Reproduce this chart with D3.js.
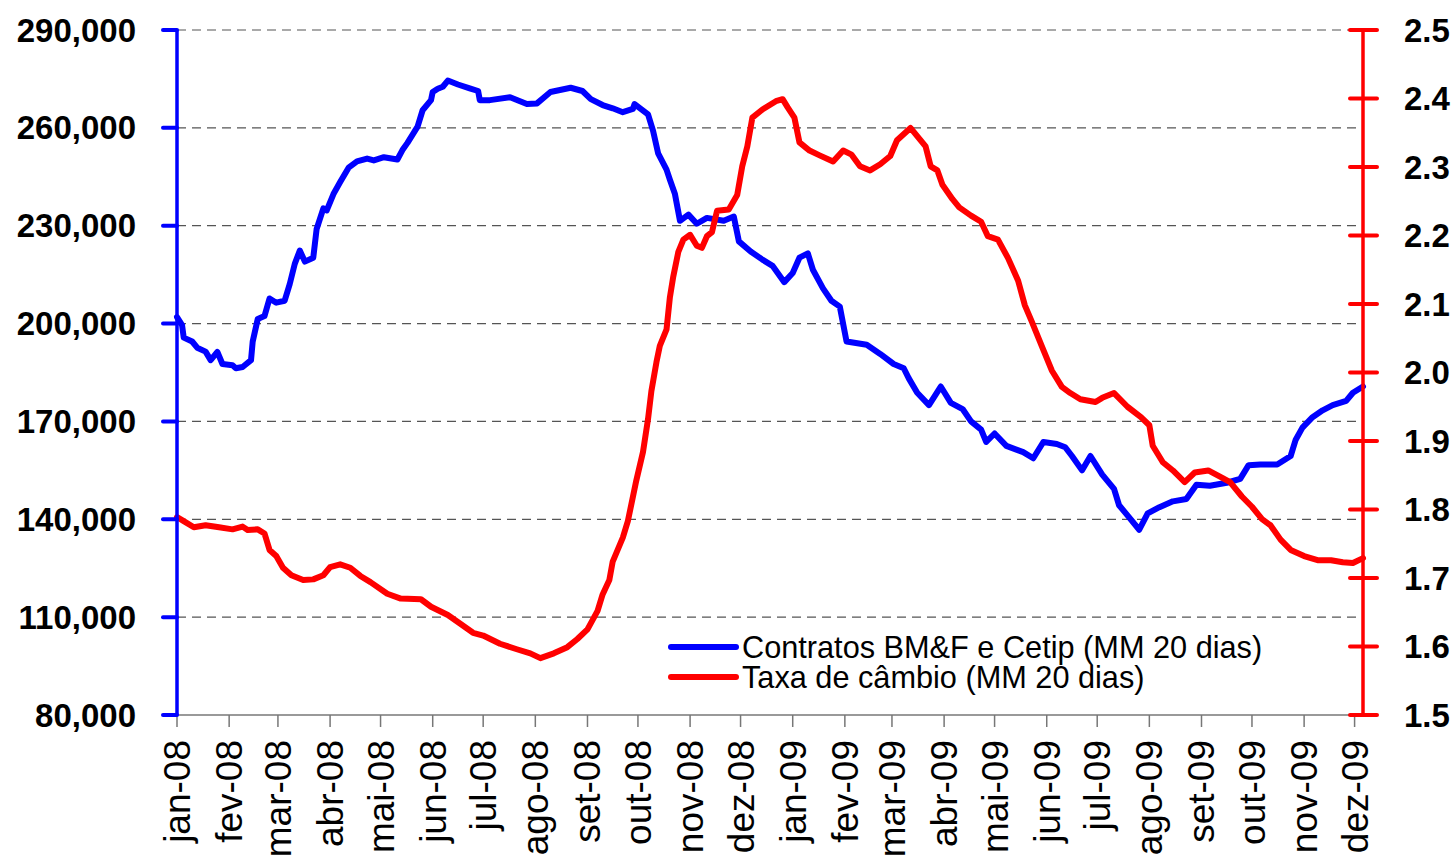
<!DOCTYPE html>
<html>
<head>
<meta charset="utf-8">
<script src="https://cdn.jsdelivr.net/npm/d3@7"></script>
<style>
  html, body { margin: 0; padding: 0; background: #fff; }
  svg { display: block; font-family: "Liberation Sans", Arial, sans-serif; }
</style>
</head>
<body>
<svg id="chart" width="1456" height="862"></svg>
<script>
// ---- Data ----
const monthLabels = ["jan-08","fev-08","mar-08","abr-08","mai-08","jun-08","jul-08","ago-08","set-08","out-08","nov-08","dez-08",
                     "jan-09","fev-09","mar-09","abr-09","mai-09","jun-09","jul-09","ago-09","set-09","out-09","nov-09","dez-09"];
const monthDates = ["2008-01-01","2008-02-01","2008-03-01","2008-04-01","2008-05-01","2008-06-01","2008-07-01","2008-08-01","2008-09-01","2008-10-01","2008-11-01","2008-12-01",
                    "2009-01-01","2009-02-01","2009-03-01","2009-04-01","2009-05-01","2009-06-01","2009-07-01","2009-08-01","2009-09-01","2009-10-01","2009-11-01","2009-12-01"];
const xDomain = ["2008-01-01", "2009-12-06"];

const leftTicks = [80000, 110000, 140000, 170000, 200000, 230000, 260000, 290000];
const rightTicks = [1.5, 1.6, 1.7, 1.8, 1.9, 2.0, 2.1, 2.2, 2.3, 2.4, 2.5];

const legendLabels = ["Contratos BM&F e Cetip (MM 20 dias)", "Taxa de câmbio (MM 20 dias)"];

// Contratos BM&F e Cetip (MM 20 dias) - left axis
const contratosDates = [
  "2008-01-01","2008-01-04","2008-01-05","2008-01-10","2008-01-13","2008-01-18","2008-01-21","2008-01-25","2008-01-28",
  "2008-02-03","2008-02-05","2008-02-09","2008-02-14","2008-02-15","2008-02-18","2008-02-22","2008-02-25","2008-02-29",
  "2008-03-05","2008-03-08","2008-03-11","2008-03-14","2008-03-17","2008-03-22","2008-03-24","2008-03-28","2008-03-30",
  "2008-04-03","2008-04-07","2008-04-12","2008-04-17","2008-04-23","2008-04-27",
  "2008-05-03","2008-05-11","2008-05-14","2008-05-17","2008-05-23","2008-05-26","2008-05-31",
  "2008-06-01","2008-06-04","2008-06-07","2008-06-10","2008-06-16","2008-06-23","2008-06-28","2008-06-29",
  "2008-07-05","2008-07-17","2008-07-27",
  "2008-08-02","2008-08-10","2008-08-22","2008-08-29",
  "2008-09-03","2008-09-10","2008-09-16","2008-09-22","2008-09-28","2008-09-29",
  "2008-10-07","2008-10-10","2008-10-13","2008-10-18","2008-10-20","2008-10-23","2008-10-26","2008-10-31",
  "2008-11-05","2008-11-11","2008-11-21","2008-11-27","2008-11-30",
  "2008-12-07","2008-12-14","2008-12-20","2008-12-27",
  "2009-01-01","2009-01-05","2009-01-10","2009-01-13","2009-01-19","2009-01-24","2009-01-29",
  "2009-02-02","2009-02-14","2009-02-22",
  "2009-03-02","2009-03-08","2009-03-11","2009-03-16","2009-03-23","2009-03-30",
  "2009-04-05","2009-04-12","2009-04-17","2009-04-23","2009-04-26",
  "2009-05-01","2009-05-08","2009-05-18","2009-05-24","2009-05-30",
  "2009-06-07","2009-06-12","2009-06-16","2009-06-22","2009-06-27",
  "2009-07-04","2009-07-11","2009-07-14","2009-07-19","2009-07-26","2009-07-31",
  "2009-08-07","2009-08-15","2009-08-23","2009-08-29",
  "2009-09-06","2009-09-16","2009-09-24","2009-09-29",
  "2009-10-06","2009-10-16","2009-10-24","2009-10-27","2009-10-31",
  "2009-11-06","2009-11-12","2009-11-18","2009-11-26","2009-11-30",
  "2009-12-06"
];
const contratosValues = [
  202000,199500,195700,194500,192600,191400,188800,191300,187600,
  187200,186300,186700,188800,194500,201400,202300,207700,206400,
  207000,212100,218300,222400,219000,220200,229000,235300,234700,
  239700,243400,247800,249700,250600,250000,
  251000,250300,253200,255400,260400,265400,268500,
  271000,272000,272600,274500,273300,272100,271300,268500,
  268500,269400,267300,
  267500,271000,272300,271300,
  268800,267000,266000,264800,265800,267300,
  264100,259100,252200,247200,244100,239700,231500,233400,
  230600,232400,231500,232800,225200,
  222100,219600,217700,212700,
  215500,220200,221500,216500,210800,207000,205200,
  194500,193500,190700,
  187600,186300,183200,178800,175000,180700,
  175700,173800,170000,167500,163700,
  166300,162500,160600,158700,163700,
  163100,162100,159400,155000,159400,
  153700,149300,144300,141200,136800,141800,
  143700,145500,146200,150600,
  150300,151200,152400,156600,
  156800,156800,159400,164400,168100,
  171300,173400,175000,176300,178800,
  180700
];

// Taxa de câmbio (MM 20 dias) - right axis
const cambioDates = [
  "2008-01-01","2008-01-05","2008-01-11","2008-01-18","2008-01-26",
  "2008-02-03","2008-02-09","2008-02-12","2008-02-18","2008-02-22","2008-02-25","2008-02-29",
  "2008-03-04","2008-03-09","2008-03-16","2008-03-22","2008-03-28",
  "2008-04-01","2008-04-07","2008-04-13","2008-04-19","2008-04-25",
  "2008-05-05","2008-05-13","2008-05-25","2008-05-31",
  "2008-06-10","2008-06-17","2008-06-25",
  "2008-07-01","2008-07-11","2008-07-21","2008-07-29",
  "2008-08-04","2008-08-12","2008-08-20","2008-08-26",
  "2008-09-01","2008-09-07","2008-09-10","2008-09-14","2008-09-16","2008-09-22","2008-09-25","2008-09-30",
  "2008-10-04","2008-10-07","2008-10-09","2008-10-12","2008-10-14","2008-10-18","2008-10-20","2008-10-22","2008-10-25","2008-10-28",
  "2008-11-01","2008-11-05","2008-11-08","2008-11-11","2008-11-14","2008-11-17","2008-11-24","2008-11-29",
  "2008-12-02","2008-12-05","2008-12-08","2008-12-14","2008-12-22","2008-12-26","2008-12-29",
  "2009-01-02","2009-01-05","2009-01-11","2009-01-17","2009-01-25","2009-01-31",
  "2009-02-05","2009-02-10","2009-02-16","2009-02-22","2009-02-28",
  "2009-03-04","2009-03-12","2009-03-16","2009-03-21","2009-03-24","2009-03-28","2009-03-31",
  "2009-04-06","2009-04-10","2009-04-17","2009-04-23","2009-04-27",
  "2009-05-03","2009-05-09","2009-05-15","2009-05-19","2009-05-23","2009-05-29",
  "2009-06-04","2009-06-10","2009-06-15","2009-06-21","2009-06-30",
  "2009-07-04","2009-07-11","2009-07-19","2009-07-27",
  "2009-08-01","2009-08-03","2009-08-09","2009-08-15","2009-08-22","2009-08-28",
  "2009-09-05","2009-09-12","2009-09-18","2009-09-25",
  "2009-10-01","2009-10-07","2009-10-12","2009-10-18","2009-10-24",
  "2009-11-01","2009-11-09","2009-11-17","2009-11-24","2009-11-30",
  "2009-12-06"
];
const cambioValues = [
  1.789,1.783,1.774,1.777,1.774,
  1.771,1.775,1.770,1.771,1.765,1.741,1.732,
  1.715,1.704,1.697,1.698,1.704,
  1.716,1.720,1.715,1.703,1.694,
  1.677,1.670,1.669,1.658,
  1.646,1.634,1.620,
  1.616,1.604,1.596,1.590,
  1.583,1.590,1.599,1.611,
  1.625,1.652,1.676,1.697,1.724,1.759,1.783,1.842,
  1.884,1.932,1.973,2.015,2.039,2.063,2.110,2.140,2.176,2.194,
  2.201,2.185,2.182,2.199,2.205,2.236,2.238,2.259,
  2.301,2.330,2.372,2.384,2.396,2.399,2.387,
  2.372,2.336,2.324,2.317,2.308,2.324,
  2.318,2.301,2.295,2.304,2.316,
  2.339,2.357,2.345,2.330,2.301,2.295,2.274,
  2.253,2.241,2.229,2.220,2.199,
  2.194,2.167,2.134,2.098,2.075,2.039,
  2.003,1.979,1.970,1.961,1.957,
  1.963,1.970,1.950,1.935,
  1.923,1.893,1.869,1.857,1.840,1.854,
  1.857,1.848,1.840,1.819,
  1.804,1.786,1.777,1.756,1.741,
  1.732,1.726,1.726,1.723,1.722,
  1.729
];

// ---- Chart ----
const parse = d3.timeParse("%Y-%m-%d");
const svg = d3.select("#chart");
svg.append("rect").attr("width", 1456).attr("height", 862).attr("fill", "#fff");

const x = d3.scaleTime().domain(xDomain.map(parse)).range([177, 1363]);
const yL = d3.scaleLinear().domain([80000, 290000]).range([715, 30]);
const yR = d3.scaleLinear().domain([1.5, 2.5]).range([715, 30]);

// gridlines (dashed) at left-axis ticks
svg.append("g").selectAll("line")
  .data(leftTicks.filter(v => v > 80000))
  .join("line")
  .attr("x1", x.range()[0]).attr("x2", x.range()[1])
  .attr("y1", d => yL(d)).attr("y2", d => yL(d))
  .attr("stroke", "#555").attr("stroke-width", 1.2)
  .attr("stroke-dasharray", "9,6");

// x axis
const xAxis = svg.append("g").attr("transform", `translate(0,${yL(80000)})`);
xAxis.append("line").attr("x1", x.range()[0]).attr("x2", x.range()[1] + 6)
  .attr("stroke", "#777").attr("stroke-width", 1.5);
const mDates = monthDates.map(parse);
xAxis.selectAll("line.tick").data(mDates).join("line").attr("class", "tick")
  .attr("x1", d => x(d)).attr("x2", d => x(d)).attr("y1", 0).attr("y2", 12)
  .attr("stroke", "#777").attr("stroke-width", 1.5);
xAxis.selectAll("text").data(mDates).join("text")
  .attr("transform", d => `translate(${x(d)},25) rotate(-90)`)
  .attr("text-anchor", "end").attr("dy", "0.35em")
  .attr("font-size", 37).attr("fill", "#000")
  .text((d, i) => monthLabels[i]);

// lines
const lineL = d3.line().x(d => x(d[0])).y(d => yL(d[1]));
const lineR = d3.line().x(d => x(d[0])).y(d => yR(d[1]));
const contratos = contratosDates.map((d, i) => [parse(d), contratosValues[i]]);
const cambio = cambioDates.map((d, i) => [parse(d), cambioValues[i]]);

svg.append("path").datum(contratos).attr("d", lineL)
  .attr("fill", "none").attr("stroke", "#0000ff").attr("stroke-width", 6)
  .attr("stroke-linejoin", "round").attr("stroke-linecap", "round");
svg.append("path").datum(cambio).attr("d", lineR)
  .attr("fill", "none").attr("stroke", "#ff0000").attr("stroke-width", 6)
  .attr("stroke-linejoin", "round").attr("stroke-linecap", "round");

// left axis (blue)
const gL = svg.append("g");
gL.append("line").attr("x1", 177).attr("x2", 177).attr("y1", yL(290000)).attr("y2", yL(80000))
  .attr("stroke", "#0000ff").attr("stroke-width", 3.5);
gL.selectAll("line.tick").data(leftTicks).join("line").attr("class", "tick")
  .attr("x1", 163).attr("x2", 177).attr("y1", d => yL(d)).attr("y2", d => yL(d))
  .attr("stroke", "#0000ff").attr("stroke-width", 4).attr("stroke-linecap", "round");
gL.selectAll("text").data(leftTicks).join("text")
  .attr("x", 136).attr("y", d => yL(d)).attr("dy", "0.35em")
  .attr("text-anchor", "end").attr("font-size", 33).attr("font-weight", "bold").attr("fill", "#000")
  .text(d => d3.format(",")(d));

// right axis (red)
const gR = svg.append("g");
gR.append("line").attr("x1", 1363).attr("x2", 1363).attr("y1", yR(2.5)).attr("y2", yR(1.5))
  .attr("stroke", "#ff0000").attr("stroke-width", 3.5);
gR.selectAll("line.tick").data(rightTicks).join("line").attr("class", "tick")
  .attr("x1", 1350).attr("x2", 1377).attr("y1", d => yR(d)).attr("y2", d => yR(d))
  .attr("stroke", "#ff0000").attr("stroke-width", 4).attr("stroke-linecap", "round");
gR.selectAll("text").data(rightTicks).join("text")
  .attr("x", 1404).attr("y", d => yR(d)).attr("dy", "0.35em")
  .attr("text-anchor", "start").attr("font-size", 33).attr("font-weight", "bold").attr("fill", "#000")
  .text(d => d3.format(".1f")(d));

// legend
const legendColors = ["#0000ff", "#ff0000"];
const lg = svg.append("g");
legendLabels.forEach((lab, i) => {
  const yy = 647 + i * 30;
  lg.append("line").attr("x1", 671).attr("x2", 736).attr("y1", yy).attr("y2", yy)
    .attr("stroke", legendColors[i]).attr("stroke-width", 6).attr("stroke-linecap", "round");
  lg.append("text").attr("x", 742).attr("y", yy + 10.5)
    .attr("font-size", 30.7).attr("fill", "#000").text(lab);
});
</script>
</body>
</html>
